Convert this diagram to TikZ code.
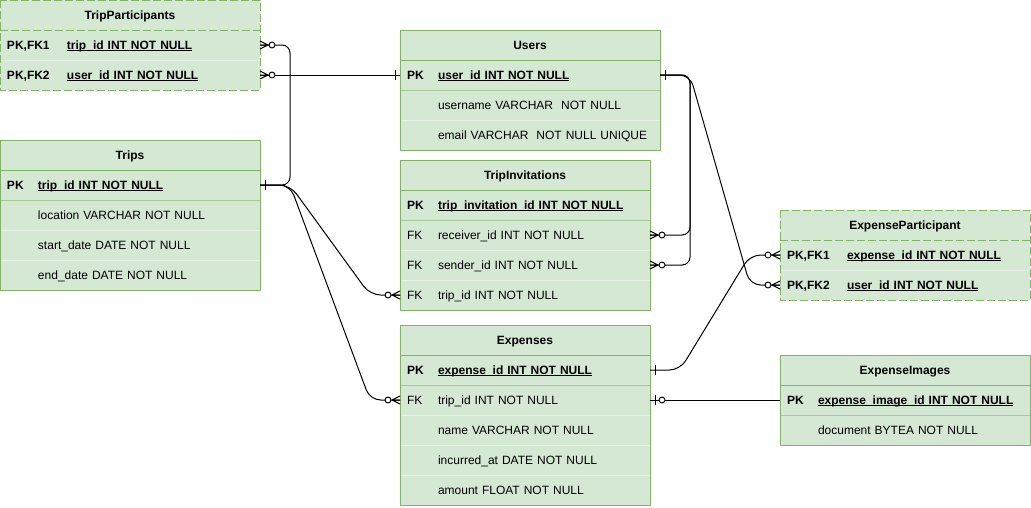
\documentclass[tikz,border=0pt]{standalone}
\usepackage{fontspec}
\setmainfont{Liberation Sans}
\usepackage{xcolor}
\usepackage{tikz}
\usetikzlibrary{positioning,calc}

\definecolor{erfill}{HTML}{D5E8D4}
\definecolor{erline}{HTML}{82B366}
\definecolor{erfaint}{HTML}{E6F1E5}

\newcommand{\erfont}{\fontsize{9}{11}\selectfont}
\newcommand{\keyc}[1]{\makebox[23.25pt][l]{#1}}
\newcommand{\keyw}[1]{\makebox[45pt][l]{#1}}
\newcommand{\fieldline}[1]{\setbox0\hbox{#1}\rlap{\rule[-1.5pt]{\wd0}{0.6pt}}\box0}
% ER end markers: #1 = row anchor, #2 = 1 (to the right) or -1 (to the left)
\newcommand{\markone}[2]{\draw[rel,shift={(#1)},xscale=#2] (5,-5) -- (5,5);}
\newcommand{\markmany}[2]{%
  \draw[rel,shift={(#1)},xscale=#2] (0,-4) -- (8,0) -- (0,4) (0,0) -- (8,0);
  \draw[rel,fill=white,shift={(#1)},xscale=#2] (12,0) circle (3);}
\newcommand{\markzero}[2]{%
  \draw[rel,shift={(#1)},xscale=#2] (5,-5) -- (5,5);
  \draw[rel,fill=white,shift={(#1)},xscale=#2] (12,0) circle (3);}

\begin{document}
\begin{tikzpicture}[x=0.75pt,y=-0.75pt,line join=round,
  hdr/.style={fill=erfill,inner xsep=5.25pt,inner ysep=0pt,outer sep=0pt,minimum height=22.5pt,text height=7.8pt,text depth=1.6pt,align=center,font=\erfont\bfseries},
  row/.style={fill=erfill,inner xsep=5.25pt,inner ysep=0pt,outer sep=0pt,minimum height=22.5pt,text height=7.8pt,text depth=1.6pt,align=left,font=\erfont},
  pkrow/.style={row,font=\erfont\bfseries},
  wide/.style={text width=184.5pt},
  narrow/.style={text width=177pt},
  tbl/.style={draw=erline,line width=0.75pt},
  dashtbl/.style={tbl,dash pattern=on 6pt off 2.25pt},
  sephead/.style={draw=erline,line width=0.75pt},
  sepdash/.style={sephead,dash pattern=on 6pt off 2.25pt},
  seppk/.style={draw=erline!55!erfill,line width=0.75pt},
  sepfaint/.style={draw=erfaint,line width=0.75pt},
  rel/.style={line width=0.75pt,black}]
  \useasboundingbox (0,0) rectangle (1031,507);

  % TripParticipants
  \node[hdr,wide,anchor=north west] (tph) at (0,0) {TripParticipants};
  \node[pkrow,wide,below=0pt of tph] (tp1) {\keyw{PK,FK1}\fieldline{trip\_id INT NOT NULL}};
  \node[pkrow,wide,below=0pt of tp1] (tp2) {\keyw{PK,FK2}\fieldline{user\_id INT NOT NULL}};
  \draw[sepdash] (tph.south west) -- (tph.south east);
  \draw[sepfaint] (tp1.south west) -- (tp1.south east);
  \draw[dashtbl] (tph.north west) rectangle (tp2.south east);

  % Users
  \node[hdr,wide,anchor=north west] (usrh) at (400,30) {Users};
  \node[pkrow,wide,below=0pt of usrh] (usr1) {\keyc{PK}\fieldline{user\_id INT NOT NULL}};
  \node[row,wide,below=0pt of usr1] (usr2) {\keyc{}username VARCHAR~ NOT NULL};
  \node[row,wide,below=0pt of usr2] (usr3) {\keyc{}email VARCHAR~ NOT NULL UNIQUE};
  \draw[sephead] (usrh.south west) -- (usrh.south east);
  \draw[seppk] (usr1.south west) -- (usr1.south east);
  \draw[sepfaint] (usr2.south west) -- (usr2.south east);
  \draw[tbl] (usrh.north west) rectangle (usr3.south east);

  % Trips
  \node[hdr,wide,anchor=north west] (trh) at (0,140) {Trips};
  \node[pkrow,wide,below=0pt of trh] (tr1) {\keyc{PK}\fieldline{trip\_id INT NOT NULL}};
  \node[row,wide,below=0pt of tr1] (tr2) {\keyc{}location VARCHAR NOT NULL};
  \node[row,wide,below=0pt of tr2] (tr3) {\keyc{}start\_date DATE NOT NULL};
  \node[row,wide,below=0pt of tr3] (tr4) {\keyc{}end\_date DATE NOT NULL};
  \draw[sephead] (trh.south west) -- (trh.south east);
  \draw[seppk] (tr1.south west) -- (tr1.south east);
  \draw[sepfaint] (tr2.south west) -- (tr2.south east);
  \draw[sepfaint] (tr3.south west) -- (tr3.south east);
  \draw[tbl] (trh.north west) rectangle (tr4.south east);

  % TripInvitations
  \node[hdr,narrow,anchor=north west] (tih) at (400,160) {TripInvitations};
  \node[pkrow,narrow,below=0pt of tih] (ti1) {\keyc{PK}\fieldline{trip\_invitation\_id INT NOT NULL}};
  \node[row,narrow,below=0pt of ti1] (ti2) {\keyc{FK}receiver\_id INT NOT NULL};
  \node[row,narrow,below=0pt of ti2] (ti3) {\keyc{FK}sender\_id INT NOT NULL};
  \node[row,narrow,below=0pt of ti3] (ti4) {\keyc{FK}trip\_id INT NOT NULL};
  \draw[sephead] (tih.south west) -- (tih.south east);
  \draw[seppk] (ti1.south west) -- (ti1.south east);
  \draw[sepfaint] (ti2.south west) -- (ti2.south east);
  \draw[sepfaint] (ti3.south west) -- (ti3.south east);
  \draw[tbl] (tih.north west) rectangle (ti4.south east);

  % Expenses
  \node[hdr,narrow,anchor=north west] (exh) at (400,325) {Expenses};
  \node[pkrow,narrow,below=0pt of exh] (ex1) {\keyc{PK}\fieldline{expense\_id INT NOT NULL}};
  \node[row,narrow,below=0pt of ex1] (ex2) {\keyc{FK}trip\_id INT NOT NULL};
  \node[row,narrow,below=0pt of ex2] (ex3) {\keyc{}name VARCHAR NOT NULL};
  \node[row,narrow,below=0pt of ex3] (ex4) {\keyc{}incurred\_at DATE NOT NULL};
  \node[row,narrow,below=0pt of ex4] (ex5) {\keyc{}amount FLOAT NOT NULL};
  \draw[sephead] (exh.south west) -- (exh.south east);
  \draw[seppk] (ex1.south west) -- (ex1.south east);
  \draw[sepfaint] (ex2.south west) -- (ex2.south east);
  \draw[sepfaint] (ex3.south west) -- (ex3.south east);
  \draw[sepfaint] (ex4.south west) -- (ex4.south east);
  \draw[tbl] (exh.north west) rectangle (ex5.south east);

  % ExpenseParticipant
  \node[hdr,narrow,anchor=north west] (eph) at (780,210) {ExpenseParticipant};
  \node[pkrow,narrow,below=0pt of eph] (ep1) {\keyw{PK,FK1}\fieldline{expense\_id INT NOT NULL}};
  \node[pkrow,narrow,below=0pt of ep1] (ep2) {\keyw{PK,FK2}\fieldline{user\_id INT NOT NULL}};
  \draw[sepdash] (eph.south west) -- (eph.south east);
  \draw[sepfaint] (ep1.south west) -- (ep1.south east);
  \draw[dashtbl] (eph.north west) rectangle (ep2.south east);

  % ExpenseImages
  \node[hdr,narrow,anchor=north west] (eih) at (780,355) {ExpenseImages};
  \node[pkrow,narrow,below=0pt of eih] (ei1) {\keyc{PK}\fieldline{expense\_image\_id INT NOT NULL}};
  \node[row,narrow,below=0pt of ei1] (ei2) {\keyc{}document BYTEA NOT NULL};
  \draw[sephead] (eih.south west) -- (eih.south east);
  \draw[seppk] (ei1.south west) -- (ei1.south east);
  \draw[tbl] (eih.north west) rectangle (ei2.south east);

  % relations
  \draw[rel,rounded corners=6pt] (tp1.east) -- ++(30,0) |- (tr1.east);
  \draw[rel] (tp2.east) -- (usr1.west);
  \draw[rel,rounded corners=6pt] (usr1.east) -- ++(30,0) |- (ti2.east);
  \draw[rel,rounded corners=6pt] (usr1.east) -- ++(30,0) |- (ti3.east);
  \draw[rel,rounded corners=8pt] (usr1.east) -- ++(30,0) -- ($(ep2.west)+(-30,0)$) -- (ep2.west);
  \draw[rel,rounded corners=8pt] (ex1.east) -- ++(30,0) -- ($(ep1.west)+(-30,0)$) -- (ep1.west);
  \draw[rel,rounded corners=8pt] (tr1.east) -- ++(30,0) -- ($(ti4.west)+(-30,0)$) -- (ti4.west);
  \draw[rel,rounded corners=8pt] (tr1.east) -- ++(30,0) -- ($(ex2.west)+(-30,0)$) -- (ex2.west);
  \draw[rel] (ex2.east) -- (ei1.west);

  % end markers
  \markmany{tp1.east}{1}
  \markmany{tp2.east}{1}
  \markone{tr1.east}{1}
  \markone{usr1.west}{-1}
  \markone{usr1.east}{1}
  \markmany{ti2.east}{1}
  \markmany{ti3.east}{1}
  \markmany{ti4.west}{-1}
  \markmany{ex2.west}{-1}
  \markmany{ep1.west}{-1}
  \markmany{ep2.west}{-1}
  \markone{ex1.east}{1}
  \markzero{ex2.east}{1}
\end{tikzpicture}
\end{document}
